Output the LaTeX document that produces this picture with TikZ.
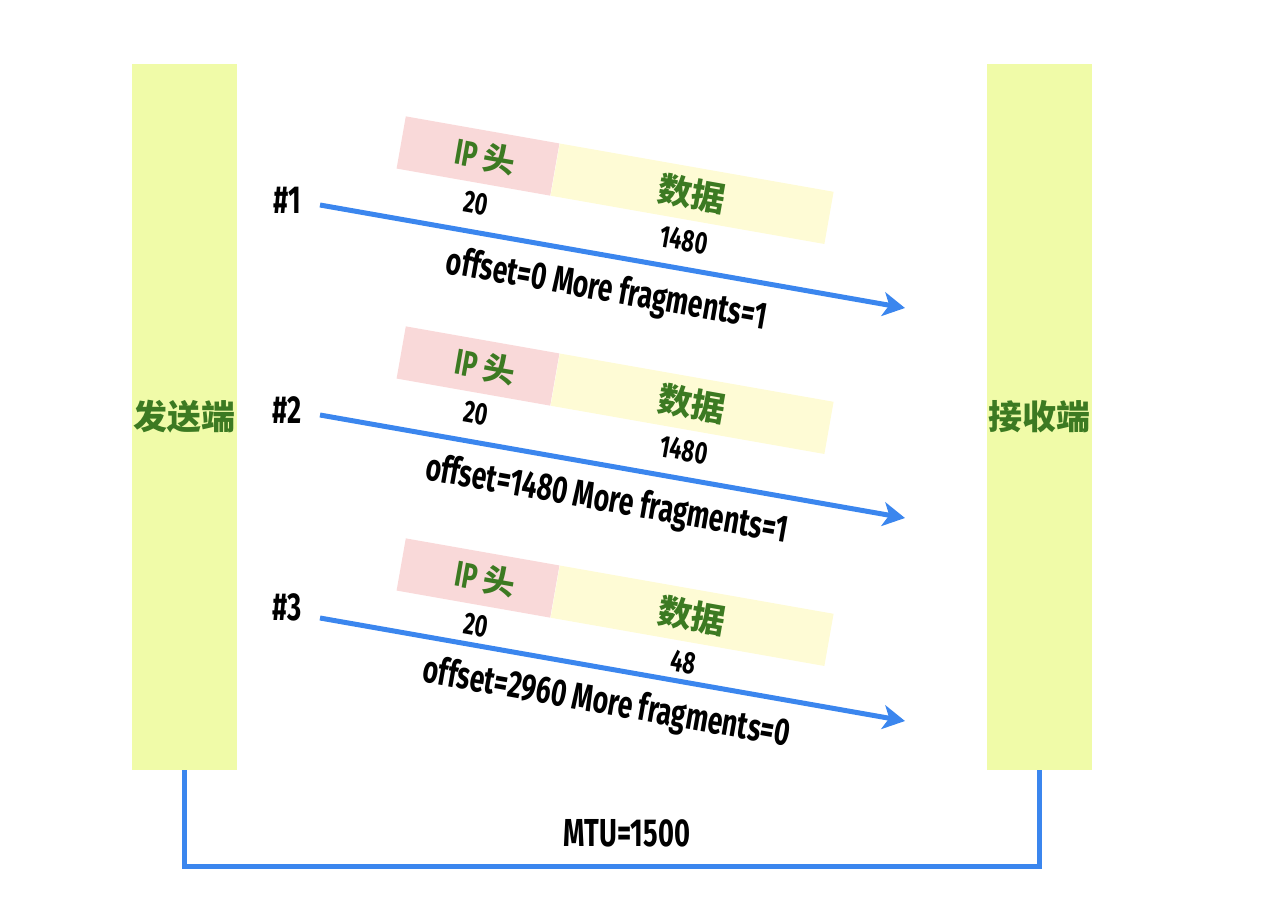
\documentclass[tikz,border=0pt]{standalone}
\usepackage{fontspec}
\setmainfont{Fira Sans}[FakeStretch=0.7]
\newfontfamily\cjkfont{Noto Sans CJK SC}
\usetikzlibrary{arrows.meta,positioning}

\definecolor{barfill}{HTML}{F0FBA8}
\definecolor{hdrpink}{HTML}{F9D9D9}
\definecolor{datayellow}{HTML}{FEFBD5}
\definecolor{labelgreen}{HTML}{3C7A22}
\definecolor{linkblue}{HTML}{3B86EE}

\newcommand{\zh}[1]{{\cjkfont\bfseries #1}}

\begin{document}
\begin{tikzpicture}[x=1pt,y=1pt,
		bar/.style={fill=barfill, minimum width=105pt, minimum height=706pt, inner sep=0pt,
			text=labelgreen, font=\fontsize{34}{34}\selectfont},
		hdrbox/.style={fill=hdrpink, rotate=-10, minimum width=156pt, minimum height=53pt,
			inner sep=0pt, text=labelgreen, font=\fontsize{36}{36}\selectfont\bfseries},
		databox/.style={fill=datayellow, rotate=-10, minimum width=278pt, minimum height=53pt,
			inner sep=0pt, text=labelgreen, font=\fontsize{34}{34}\selectfont},
		size/.style={rotate=-10, anchor=north, inner sep=9pt, font=\fontsize{31}{31}\selectfont\bfseries},
		tag/.style={font=\fontsize{39}{39}\selectfont\bfseries},
		info/.style={sloped, below=12pt, inner sep=2pt, font=\fontsize{38}{38}\selectfont\bfseries},
		flow/.style={draw=linkblue, line width=5pt, -{Stealth[length=22pt,width=24pt,inset=6pt]}},
		mtu/.style={draw=linkblue, line width=5pt}]
	\useasboundingbox (0,0) rectangle (1280,-907);

	% Hosts
	\node[bar] (sender) at (184.5,-417) {\zh{发送端}};
	\node[bar] (receiver) at (1039,-417) {\zh{接收端}};

	% Fragment 1
	\node[hdrbox] (hdr1) at (478,-156) {\hspace{14pt}IP {\fontsize{32}{32}\selectfont\zh{头}}};
	\node[databox, anchor=north west] (data1) at (hdr1.north east) {\zh{数据}};
	\node[size, xshift=6pt] (hlen1) at (hdr1.south) {20};
	\node[size] (dlen1) at (data1.south) {1480};
	\node[tag] (tag1) at (287,-200) {\#1};
	\coordinate (src1) at (320,-205);
	\coordinate (dst1) at (905,-308);
	\draw[flow] (src1) -- node[info] (info1) {offset=0 More fragments=1} (dst1);

	% Fragment 2
	\node[hdrbox] (hdr2) at (478,-366) {\hspace{14pt}IP {\fontsize{32}{32}\selectfont\zh{头}}};
	\node[databox, anchor=north west] (data2) at (hdr2.north east) {\zh{数据}};
	\node[size, xshift=6pt] (hlen2) at (hdr2.south) {20};
	\node[size] (dlen2) at (data2.south) {1480};
	\node[tag] (tag2) at (287,-410) {\#2};
	\coordinate (src2) at (320,-415);
	\coordinate (dst2) at (905,-518);
	\draw[flow] (src2) -- node[info] (info2) {offset=1480 More fragments=1} (dst2);

	% Fragment 3
	\node[hdrbox] (hdr3) at (478,-578) {\hspace{14pt}IP {\fontsize{32}{32}\selectfont\zh{头}}};
	\node[databox, anchor=north west] (data3) at (hdr3.north east) {\zh{数据}};
	\node[size, xshift=6pt] (hlen3) at (hdr3.south) {20};
	\node[size] (dlen3) at (data3.south) {48};
	\node[tag] (tag3) at (287,-607) {\#3};
	\coordinate (src3) at (320,-618);
	\coordinate (dst3) at (905,-721);
	\draw[flow] (src3) -- node[info] (info3) {offset=2960 More fragments=0} (dst3);

	% MTU link
	\draw[mtu] (sender.south) -- ++(0,-96) -| (receiver.south);
	\node[tag] (mtulabel) at (627,-833) {MTU=1500};
\end{tikzpicture}
\end{document}
